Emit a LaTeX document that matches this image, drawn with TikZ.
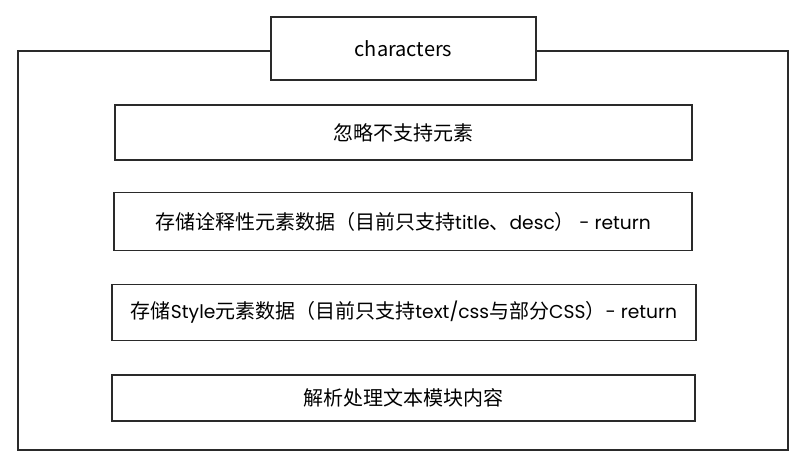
\documentclass[tikz,border=0pt]{standalone}
\usepackage{fontspec}
\setmainfont{Noto Sans CJK SC}
\newfontfamily\latinfont{Poppins}
\definecolor{ink}{HTML}{2A2A2A}
\begin{document}
\begin{tikzpicture}[x=0.75pt,y=-0.75pt,
  box/.style={draw=ink,line width=1.1pt,fill=white,inner sep=0pt,text=black,
    font=\fontsize{15}{18}\selectfont}]
\useasboundingbox (0,0) rectangle (806,468);
\draw[ink,line width=1.1pt] (18,51) rectangle (788,450);
\node[box,minimum width=198.75pt,minimum height=47.25pt] (chars) at (403.5,48.5) {characters};
\node[box,minimum width=432.75pt,minimum height=41.25pt] (b1) at (403.5,132.5) {忽略不支持元素};
\node[box,minimum width=433.5pt,minimum height=43.5pt] (b2) at (403,221.5) {存储诠释性元素数据（目前只支持{\latinfont\fontsize{14}{18}\selectfont title}、{\latinfont\fontsize{14}{18}\selectfont desc}） {\latinfont\fontsize{14}{18}\selectfont - return}};
\node[box,minimum width=438pt,minimum height=42pt] (b3) at (404,312.5) {存储{\latinfont\fontsize{14}{18}\selectfont Style}元素数据（目前只支持{\latinfont\fontsize{14}{18}\selectfont text/css}与部分{\latinfont\fontsize{14}{18}\selectfont CSS}）{\latinfont\fontsize{14}{18}\selectfont - return}};
\node[box,minimum width=437.25pt,minimum height=34.5pt] (b4) at (403.5,398) {解析处理文本模块内容};
\end{tikzpicture}
\end{document}
